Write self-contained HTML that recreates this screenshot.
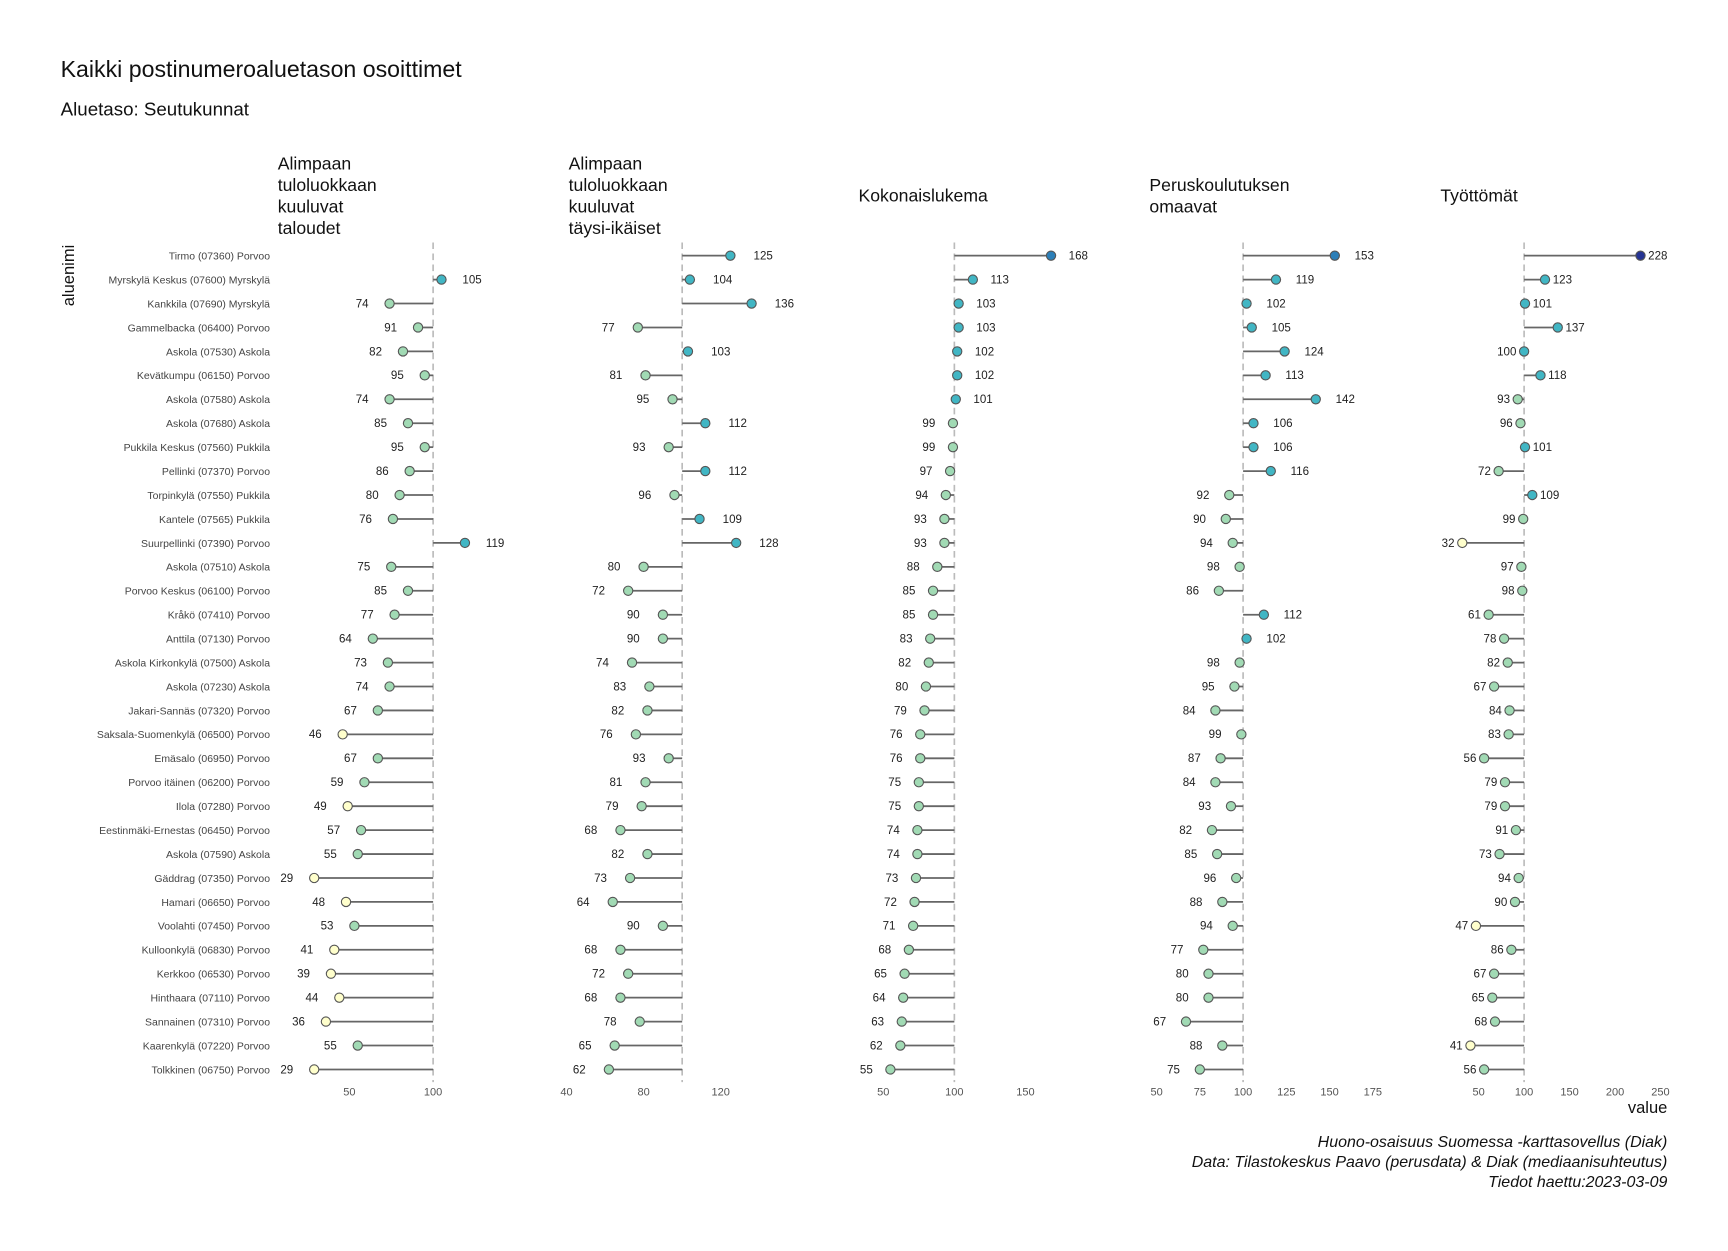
<!DOCTYPE html>
<html><head><meta charset="utf-8">
<style>
html,body{margin:0;padding:0;background:#fff;}
svg{display:block;font-family:"Liberation Sans",sans-serif;}
</style></head>
<body>
<svg id="chart" width="1728" height="1251" viewBox="0 0 1568 1135.2" xmlns="http://www.w3.org/2000/svg">
<rect width="1568" height="1136" fill="#fff"/>
<text x="55" y="70" font-size="21" fill="#111">Kaikki postinumeroaluetason osoittimet</text>
<text x="55" y="105" font-size="17" fill="#111">Aluetaso: Seutukunnat</text>
<text transform="translate(67,250) rotate(-90)" text-anchor="middle" font-size="15" fill="#111">aluenimi</text>
<text x="1513" y="1010" text-anchor="end" font-size="15" fill="#111">value</text>
<g font-size="14.5" font-style="italic" fill="#111" text-anchor="end">
<text x="1513" y="1041">Huono-osaisuus Suomessa -karttasovellus (Diak)</text>
<text x="1513" y="1059">Data: Tilastokeskus Paavo (perusdata) &amp; Diak (mediaanisuhteutus)</text>
<text x="1513" y="1077">Tiedot haettu:2023-03-09</text>
</g>
<g id="rows"></g>
<g id="panels"></g>
</svg>
<script>
const regions = ["Tirmo (07360) Porvoo","Myrskylä Keskus (07600) Myrskylä","Kankkila (07690) Myrskylä","Gammelbacka (06400) Porvoo","Askola (07530) Askola","Kevätkumpu (06150) Porvoo","Askola (07580) Askola","Askola (07680) Askola","Pukkila Keskus (07560) Pukkila","Pellinki (07370) Porvoo","Torpinkylä (07550) Pukkila","Kantele (07565) Pukkila","Suurpellinki (07390) Porvoo","Askola (07510) Askola","Porvoo Keskus (06100) Porvoo","Kråkö (07410) Porvoo","Anttila (07130) Porvoo","Askola Kirkonkylä (07500) Askola","Askola (07230) Askola","Jakari-Sannäs (07320) Porvoo","Saksala-Suomenkylä (06500) Porvoo","Emäsalo (06950) Porvoo","Porvoo itäinen (06200) Porvoo","Ilola (07280) Porvoo","Eestinmäki-Ernestas (06450) Porvoo","Askola (07590) Askola","Gäddrag (07350) Porvoo","Hamari (06650) Porvoo","Voolahti (07450) Porvoo","Kulloonkylä (06830) Porvoo","Kerkkoo (06530) Porvoo","Hinthaara (07110) Porvoo","Sannainen (07310) Porvoo","Kaarenkylä (07220) Porvoo","Tolkkinen (06750) Porvoo"];
const pienituloisetTaloudet = [null,105,74,91,82,95,74,85,95,86,80,76,119,75,85,77,64,73,74,67,46,67,59,49,57,55,29,48,53,41,39,44,36,55,29];
const pienituloisetAikuiset = [125,104,136,77,103,81,95,112,93,112,96,109,128,80,72,90,90,74,83,82,76,93,81,79,68,82,73,64,90,68,72,68,78,65,62];
const kokonaislukema = [168,113,103,103,102,102,101,99,99,97,94,93,93,88,85,85,83,82,80,79,76,76,75,75,74,74,73,72,71,68,65,64,63,62,55];
const peruskoulutus = [153,119,102,105,124,113,142,106,106,116,92,90,94,98,86,112,102,98,95,84,99,87,84,93,82,85,96,88,94,77,80,80,67,88,75];
const tyottomat = [228,123,101,137,100,118,93,96,101,72,109,99,32,97,98,61,78,82,67,84,83,56,79,79,91,73,94,90,47,86,67,65,68,41,56];
const panelTitles = [["Alimpaan","tuloluokkaan","kuuluvat","taloudet"],["Alimpaan","tuloluokkaan","kuuluvat","täysi-ikäiset"],["Kokonaislukema"],["Peruskoulutuksen","omaavat"],["Työttömät"]];
const ticks1 = [50,100], ticks2 = [40,80,120], ticks3 = [50,100,150], ticks4 = [50,75,100,125,150,175], ticks5 = [50,100,150,200,250];

const NS="http://www.w3.org/2000/svg";
function mk(tag, attrs, parent){const e=document.createElementNS(NS,tag);for(const k in attrs)e.setAttribute(k,attrs[k]);parent.appendChild(e);return e;}
const rowY = i => 232 + i*21.72;
const layouts = [
 {tx:252, x100:393, k:1.52, off:19, ticks:ticks1, data:pienituloisetTaloudet},
 {tx:516, x100:619, k:1.75, off:21, ticks:ticks2, data:pienituloisetAikuiset},
 {tx:779, x100:866, k:1.29, off:16, ticks:ticks3, data:kokonaislukema},
 {tx:1043,x100:1128,k:1.57, off:18, ticks:ticks4, data:peruskoulutus},
 {tx:1307,x100:1383,k:0.825,off:7,  ticks:ticks5, data:tyottomat}
];
function color(v){ if(v<50) return "#ffffcc"; if(v<100) return "#a1dab4"; if(v<150) return "#41b6c4"; if(v<200) return "#2c7fb8"; return "#253494"; }

const rowsG=document.getElementById('rows');
regions.forEach((r,i)=>{
  const t=mk('text',{x:245,y:rowY(i)+3.5,'text-anchor':'end','font-size':'9.5',fill:'#444'},rowsG);
  
  
  t.textContent=r;
});

const panelsG=document.getElementById('panels');
layouts.forEach((L,p)=>{
  const g=mk('g',{},panelsG);
  
  
  const xs=v=>L.x100+(v-100)*L.k;
  const lines=panelTitles[p];
  const lh=19.5, cy=183, y0=cy-(lines.length-1)*lh/2;
  lines.forEach((s,j)=>{
    const t=mk('text',{x:L.tx,y:y0+j*lh,'font-size':'16',fill:'#111'},g);
    
    
    t.textContent=s;
  });
  const ref=mk('line',{x1:xs(100),x2:xs(100),y1:220,y2:982,stroke:'#bbb','stroke-width':1.5,'stroke-dasharray':'6,4'},g);
  
  
  L.ticks.forEach(tv=>{
    const t=mk('text',{x:xs(tv),y:994,'text-anchor':'middle','font-size':'10',fill:'#555'},g);
    
    
    t.textContent=tv;
  });
  L.data.forEach((v,i)=>{
    if(v===null) return;
    const y=rowY(i), x=xs(v);
    const seg=mk('line',{x1:xs(100),x2:x,y1:y,y2:y,stroke:'#666','stroke-width':1.6},g);
    
    
    const c=mk('circle',{cx:x,cy:y,r:4.2,fill:color(v),stroke:'#555','stroke-width':1},g);
    
    
    const right=v>100;
    const t=mk('text',{x:right?x+L.off:x-L.off,y:y+3.5,'text-anchor':right?'start':'end','font-size':'10.5',fill:'#222'},g);
    
    
    t.textContent=v;
  });
});
</script>
</body></html>
